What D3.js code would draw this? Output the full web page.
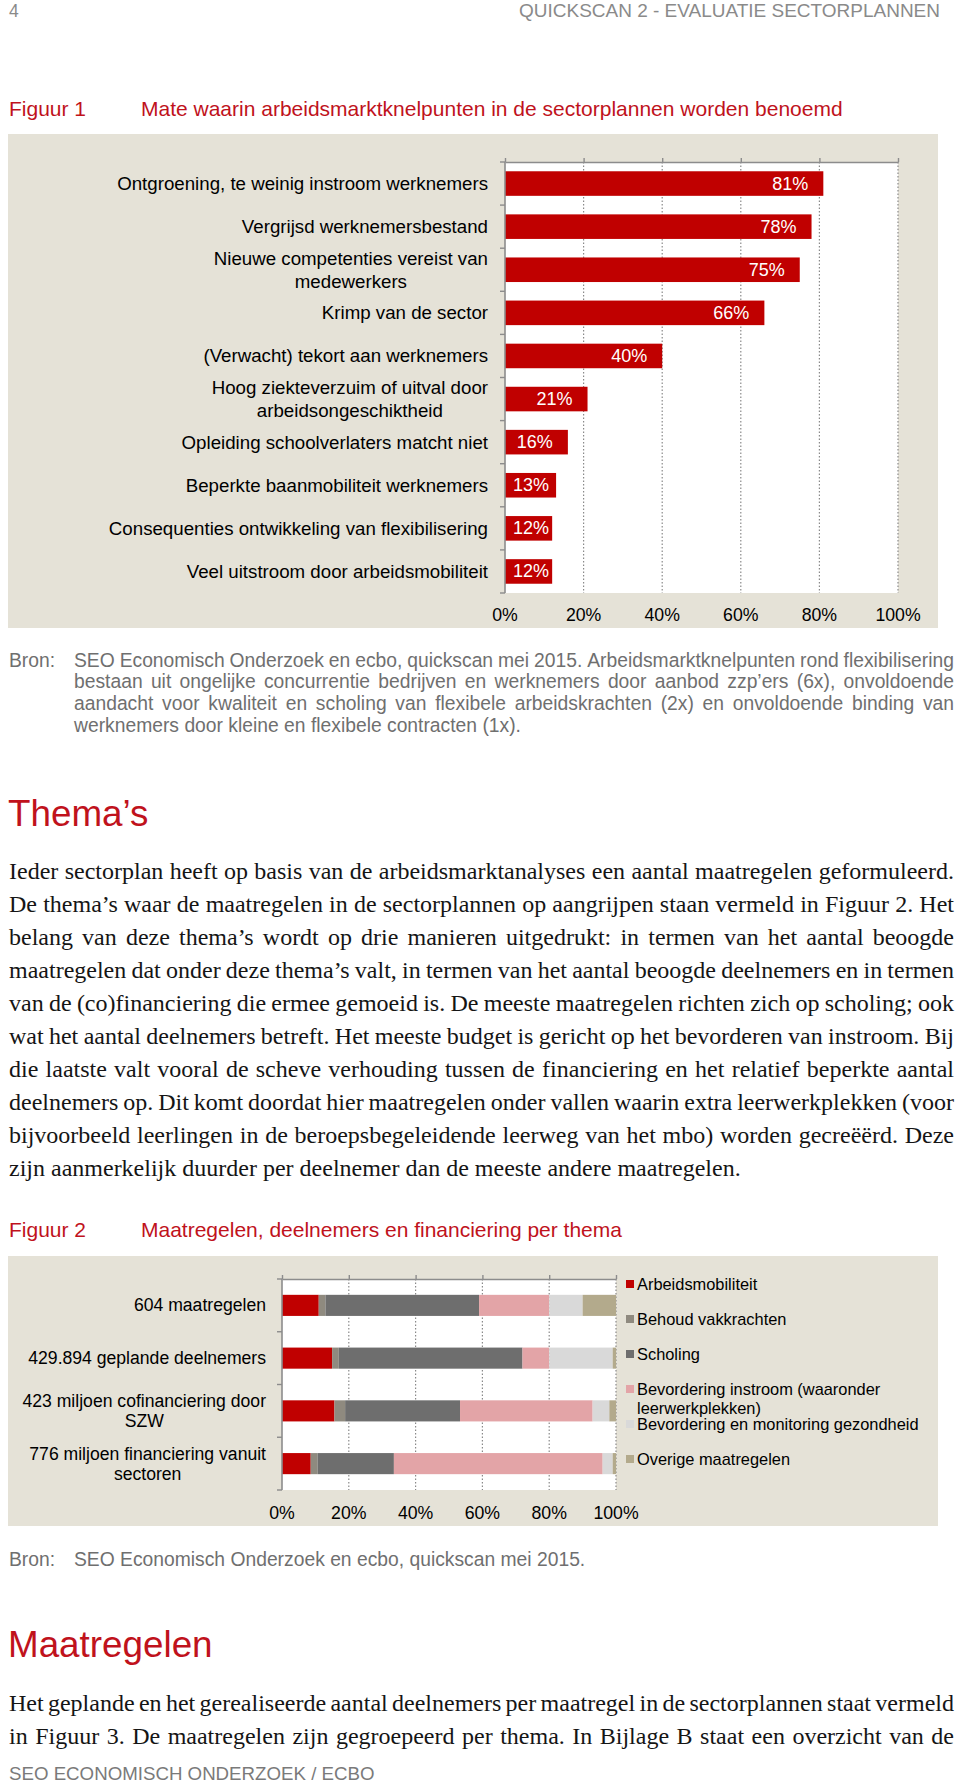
<!DOCTYPE html>
<html><head><meta charset="utf-8">
<script src="https://cdn.jsdelivr.net/npm/d3@7"></script>
<style>
html,body{margin:0;padding:0;background:#fff;}
svg{display:block;}
</style></head><body>
<svg id="page" width="960" height="1784"></svg>
<script>
// ---------------- DATA ----------------
const headerPage = "4";
const headerTitle = "QUICKSCAN 2 - EVALUATIE SECTORPLANNEN";

const fig1Label = "Figuur 1";
const fig1Title = "Mate waarin arbeidsmarktknelpunten in de sectorplannen worden benoemd";
const fig1Categories = [
  "Ontgroening, te weinig instroom werknemers",
  "Vergrijsd werknemersbestand",
  "Nieuwe competenties vereist van\nmedewerkers",
  "Krimp van de sector",
  "(Verwacht) tekort aan werknemers",
  "Hoog ziekteverzuim of uitval door\narbeidsongeschiktheid",
  "Opleiding schoolverlaters matcht niet",
  "Beperkte baanmobiliteit werknemers",
  "Consequenties ontwikkeling van flexibilisering",
  "Veel uitstroom door arbeidsmobiliteit"
];
const fig1Values = [81, 78, 75, 66, 40, 21, 16, 13, 12, 12];
const fig1Ticks = [0, 20, 40, 60, 80, 100];
const fig1SourceLabel = "Bron:";
const fig1Source = [
  "SEO Economisch Onderzoek en ecbo, quickscan mei 2015. Arbeidsmarktknelpunten rond flexibilisering",
  "bestaan uit ongelijke concurrentie bedrijven en werknemers door aanbod zzp\u2019ers (6x), onvoldoende",
  "aandacht voor kwaliteit en scholing van flexibele arbeidskrachten (2x) en onvoldoende binding van",
  "werknemers door kleine en flexibele contracten (1x)."
];

const themaHeading = "Thema\u2019s";
const themaLines = [
  "Ieder sectorplan heeft op basis van de arbeidsmarktanalyses een aantal maatregelen geformuleerd.",
  "De thema\u2019s waar de maatregelen in de sectorplannen op aangrijpen staan vermeld in Figuur 2. Het",
  "belang van deze thema\u2019s wordt op drie manieren uitgedrukt: in termen van het aantal beoogde",
  "maatregelen dat onder deze thema\u2019s valt, in termen van het aantal beoogde deelnemers en in termen",
  "van de (co)financiering die ermee gemoeid is. De meeste maatregelen richten zich op scholing; ook",
  "wat het aantal deelnemers betreft. Het meeste budget is gericht op het bevorderen van instroom. Bij",
  "die laatste valt vooral de scheve verhouding tussen de financiering en het relatief beperkte aantal",
  "deelnemers op. Dit komt doordat hier maatregelen onder vallen waarin extra leerwerkplekken (voor",
  "bijvoorbeeld leerlingen in de beroepsbegeleidende leerweg van het mbo) worden gecre\u00eb\u00ebrd. Deze",
  "zijn aanmerkelijk duurder per deelnemer dan de meeste andere maatregelen."
];

const fig2Label = "Figuur 2";
const fig2Title = "Maatregelen, deelnemers en financiering per thema";
const fig2Categories = [
  "604 maatregelen",
  "429.894 geplande deelnemers",
  "423 miljoen cofinanciering door\nSZW",
  "776 miljoen financiering vanuit\nsectoren"
];
const fig2Series = [
  "Arbeidsmobiliteit",
  "Behoud vakkrachten",
  "Scholing",
  "Bevordering instroom (waaronder\nleerwerkplekken)",
  "Bevordering en monitoring gezondheid",
  "Overige maatregelen"
];
const fig2Arbeidsmobiliteit = [11, 15, 15.7, 8.6];
const fig2Behoud          = [2, 2, 3.2, 2.1];
const fig2Scholing        = [46, 55, 34.4, 22.8];
const fig2Instroom        = [21, 8, 39.7, 62.5];
const fig2Gezondheid      = [10, 19, 5, 3];
const fig2Overige         = [10, 1, 2, 1];
const fig2Colors = ["#c00000", "#8f8a7f", "#6e6e6e", "#e3a4a7", "#d9d9d9", "#b3aa8c"];
const fig2Ticks = [0, 20, 40, 60, 80, 100];
const fig2Source = "SEO Economisch Onderzoek en ecbo, quickscan mei 2015.";

const maatHeading = "Maatregelen";
const maatLines = [
  "Het geplande en het gerealiseerde aantal deelnemers per maatregel in de sectorplannen staat vermeld",
  "in Figuur 3. De maatregelen zijn gegroepeerd per thema. In Bijlage B staat een overzicht van de"
];
const footerText = "SEO ECONOMISCH ONDERZOEK / ECBO";

// ---------------- STYLE ----------------
const SANS = "'Liberation Sans', Arial, sans-serif";
const SERIF = "'Liberation Serif', 'Times New Roman', serif";
const RED = "#c0121c";
const PANEL = "#e5e2d7";
const AXIS = "#8c8c8c";
const GREYTXT = "#6f6f6f";

const svg = d3.select("#page");
svg.append("rect").attr("width", 960).attr("height", 1784).attr("fill", "#fff");

function txt(parent, s, x, y, size, opts = {}) {
  return parent.append("text")
    .attr("x", x).attr("y", y)
    .attr("text-anchor", opts.anchor || "start")
    .attr("dominant-baseline", opts.baseline || "alphabetic")
    .style("font-family", opts.family || SANS)
    .style("font-size", size + "px")
    .style("fill", opts.fill || "#000")
    .text(s);
}

// justified line: word-by-word placement
function line(parent, s, x0, x1, y, size, opts = {}) {
  const family = opts.family || SANS;
  const tmp = parent.append("text").style("font-family", family).style("font-size", size + "px");
  const words = s.split(" ");
  const widths = words.map(w => { tmp.text(w); return tmp.node().getComputedTextLength(); });
  tmp.text("a a"); const a2 = tmp.node().getComputedTextLength();
  tmp.text("aa"); const space = a2 - tmp.node().getComputedTextLength();
  tmp.remove();
  const t = parent.append("text").attr("y", y)
    .style("font-family", family).style("font-size", size + "px").style("fill", opts.fill || "#000");
  let gap = space;
  const total = d3.sum(widths);
  if (opts.justify && words.length > 1) gap = (x1 - x0 - total) / (words.length - 1);
  if (gap < space * 0.45) {
    t.attr("x", x0).text(s).attr("textLength", x1 - x0).attr("lengthAdjust", "spacingAndGlyphs");
    return t;
  }
  let x = x0;
  words.forEach((w, i) => {
    t.append("tspan").attr("x", x).text(i < words.length - 1 ? w + " " : w);
    x += widths[i] + gap;
  });
  return t;
}

// multi-line label block, right aligned, lines centered inside block
function blockLabel(parent, label, xRight, yCenter, lh, size) {
  const parts = label.split("\n");
  const ts = parts.map((p, i) => txt(parent, p, 0, yCenter + (i - (parts.length - 1) / 2) * lh, size,
    { anchor: "middle", baseline: "central" }));
  const maxW = d3.max(ts, t => t.node().getComputedTextLength());
  ts.forEach(t => t.attr("x", xRight - maxW / 2));
}

// ---------------- HEADER ----------------
txt(svg, headerPage, 9, 16.5, 17.5, { fill: "#8a8a8a" });
txt(svg, headerTitle, 940, 16.5, 17.5, { fill: "#8a8a8a", anchor: "end" })
  .attr("textLength", 421).attr("lengthAdjust", "spacingAndGlyphs");

// ---------------- FIGURE 1 ----------------
txt(svg, fig1Label, 9, 116, 21, { fill: RED });
txt(svg, fig1Title, 141, 116, 21, { fill: RED });

const g1 = svg.append("g");
g1.append("rect").attr("x", 8).attr("y", 134).attr("width", 930).attr("height", 494).attr("fill", PANEL);

const x1 = d3.scaleLinear().domain([0, 100]).range([505, 898]);
const y1 = d3.scaleBand().domain(d3.range(fig1Categories.length)).range([162, 593])
  .paddingInner(0.43).paddingOuter(0.215);

g1.append("rect").attr("x", x1(0)).attr("y", y1.range()[0])
  .attr("width", x1(100) - x1(0)).attr("height", y1.range()[1] - y1.range()[0]).attr("fill", "#fff");

g1.selectAll(".grid").data(fig1Ticks.slice(1)).join("line")
  .attr("x1", d => x1(d)).attr("x2", d => x1(d))
  .attr("y1", y1.range()[0]).attr("y2", y1.range()[1])
  .attr("stroke", "#8a8a8a").attr("stroke-width", 1.2).attr("stroke-dasharray", "1.5,2");

g1.selectAll(".bar").data(fig1Values).join("rect")
  .attr("x", x1(0)).attr("y", (d, i) => y1(i))
  .attr("width", d => x1(d) - x1(0)).attr("height", y1.bandwidth())
  .attr("fill", "#c00000");

// top axis
const topAxis = g1.append("g").attr("transform", `translate(0,${y1.range()[0]})`)
  .call(d3.axisTop(x1).tickValues(fig1Ticks).tickSize(4).tickSizeOuter(0).tickFormat(""));
topAxis.select(".domain").attr("stroke", AXIS).attr("stroke-width", 1.6);
topAxis.selectAll(".tick line").attr("stroke", AXIS).attr("stroke-width", 1.4);

// left axis with ticks between categories
g1.append("line").attr("x1", x1(0)).attr("x2", x1(0))
  .attr("y1", y1.range()[0]).attr("y2", y1.range()[1]).attr("stroke", AXIS).attr("stroke-width", 1.6);
g1.selectAll(".ltick").data(d3.range(fig1Categories.length + 1)).join("line")
  .attr("x1", x1(0) - 5).attr("x2", x1(0))
  .attr("y1", i => y1.range()[0] + i * y1.step()).attr("y2", i => y1.range()[0] + i * y1.step())
  .attr("stroke", AXIS).attr("stroke-width", 1.4);

// tick labels
fig1Ticks.forEach(t => txt(g1, t + "%", x1(t), 615, 17.7, { anchor: "middle", baseline: "central" }));

// category labels
fig1Categories.forEach((c, i) => blockLabel(g1, c, 488, y1(i) + y1.bandwidth() / 2, 23, 18.7));

// value labels
fig1Values.forEach((v, i) => {
  const t = txt(g1, v + "%", x1(v) - 15, y1(i) + y1.bandwidth() / 2, 18,
    { anchor: "end", baseline: "central", fill: "#fff" });
  const w = t.node().getComputedTextLength();
  if (x1(v) - 15 - w < x1(0) + 8) t.attr("x", x1(0) + 8).attr("text-anchor", "start");
});

// source
txt(svg, fig1SourceLabel, 9, 666.5, 19.3, { fill: GREYTXT });
fig1Source.forEach((s, i) => line(svg, s, 74, 954, 666.5 + i * 21.8, 19.3,
  { fill: GREYTXT, justify: i < fig1Source.length - 1 }));

// ---------------- THEMA'S ----------------
txt(svg, themaHeading, 8, 826, 36.8, { fill: RED });
themaLines.forEach((s, i) => line(svg, s, 9, 954, 878.5 + i * 33, 24,
  { family: SERIF, fill: "#151515", justify: i < themaLines.length - 1 }));

// ---------------- FIGURE 2 ----------------
txt(svg, fig2Label, 9, 1237, 21, { fill: RED });
txt(svg, fig2Title, 141, 1237, 21, { fill: RED });

const g2 = svg.append("g");
g2.append("rect").attr("x", 8).attr("y", 1256).attr("width", 930).attr("height", 270).attr("fill", PANEL);

const x2 = d3.scaleLinear().domain([0, 100]).range([282, 616]);
const y2 = d3.scaleBand().domain(d3.range(fig2Categories.length)).range([1279, 1490])
  .paddingInner(0.6).paddingOuter(0.3);

g2.append("rect").attr("x", x2(0)).attr("y", y2.range()[0])
  .attr("width", x2(100) - x2(0)).attr("height", y2.range()[1] - y2.range()[0]).attr("fill", "#fff");

g2.selectAll(".grid").data(fig2Ticks.slice(1)).join("line")
  .attr("x1", d => x2(d)).attr("x2", d => x2(d))
  .attr("y1", y2.range()[0]).attr("y2", y2.range()[1])
  .attr("stroke", "#8a8a8a").attr("stroke-width", 1.2).attr("stroke-dasharray", "1.5,2");

const seriesValues = [fig2Arbeidsmobiliteit, fig2Behoud, fig2Scholing, fig2Instroom, fig2Gezondheid, fig2Overige];
const table = fig2Categories.map((c, i) => {
  const row = { idx: i };
  fig2Series.forEach((s, k) => row[s] = seriesValues[k][i]);
  return row;
});
const stacked = d3.stack().keys(fig2Series)(table);
stacked.forEach((layer, k) => {
  g2.append("g").selectAll("rect").data(layer).join("rect")
    .attr("x", d => x2(d[0])).attr("width", d => x2(d[1]) - x2(d[0]))
    .attr("y", d => y2(d.data.idx)).attr("height", y2.bandwidth())
    .attr("fill", fig2Colors[k]);
});

const topAxis2 = g2.append("g").attr("transform", `translate(0,${y2.range()[0]})`)
  .call(d3.axisTop(x2).tickValues(fig2Ticks).tickSize(4).tickSizeOuter(0).tickFormat(""));
topAxis2.select(".domain").attr("stroke", AXIS).attr("stroke-width", 1.6);
topAxis2.selectAll(".tick line").attr("stroke", AXIS).attr("stroke-width", 1.4);

g2.append("line").attr("x1", x2(0)).attr("x2", x2(0))
  .attr("y1", y2.range()[0]).attr("y2", y2.range()[1]).attr("stroke", AXIS).attr("stroke-width", 1.6);
g2.selectAll(".ltick").data(d3.range(fig2Categories.length + 1)).join("line")
  .attr("x1", x2(0) - 5).attr("x2", x2(0))
  .attr("y1", i => y2.range()[0] + i * y2.step()).attr("y2", i => y2.range()[0] + i * y2.step())
  .attr("stroke", AXIS).attr("stroke-width", 1.4);

fig2Ticks.forEach(t => txt(g2, t + "%", x2(t), 1513, 17.7, { anchor: "middle", baseline: "central" }));
fig2Categories.forEach((c, i) => blockLabel(g2, c, 266, y2(i) + y2.bandwidth() / 2, 20, 17.6));

// legend
fig2Series.forEach((s, k) => {
  const yc = 1284 + k * 35;
  g2.append("rect").attr("x", 626).attr("y", yc - 4).attr("width", 8).attr("height", 8).attr("fill", fig2Colors[k]);
  s.split("\n").forEach((p, j) => txt(g2, p, 637, yc + j * 19, 16.4, { baseline: "central" }));
});

txt(svg, fig1SourceLabel, 9, 1565.5, 19.3, { fill: GREYTXT });
txt(svg, fig2Source, 74, 1565.5, 19.3, { fill: GREYTXT });

// ---------------- MAATREGELEN ----------------
txt(svg, maatHeading, 8, 1656.5, 36.8, { fill: RED });
maatLines.forEach((s, i) => line(svg, s, 9, 954, 1711 + i * 33, 24,
  { family: SERIF, fill: "#151515", justify: true }));

txt(svg, footerText, 9, 1779.5, 18.7, { fill: "#7a7a7a" });
</script>
</body></html>
